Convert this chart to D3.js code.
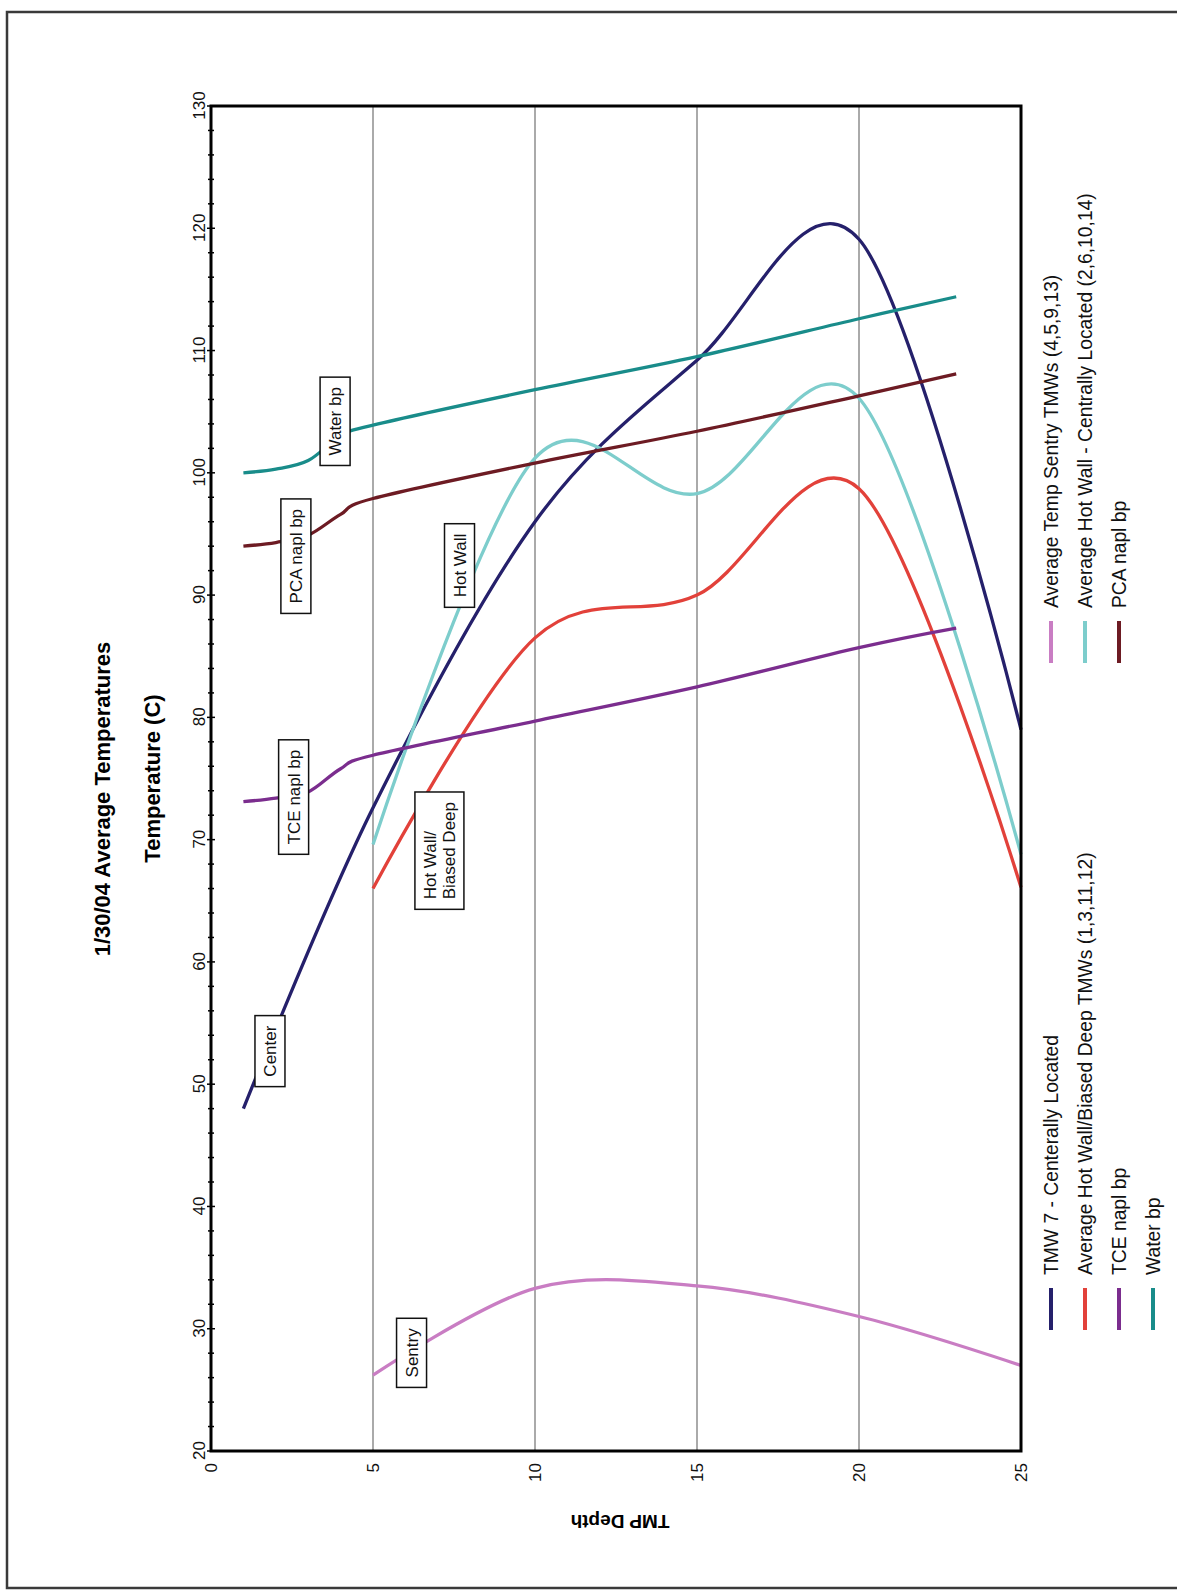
<!DOCTYPE html>
<html>
<head>
<meta charset="utf-8">
<script src="https://cdn.jsdelivr.net/npm/d3@7"></script>
<style>
  body { margin: 0; background: #fff; }
  svg { display: block; font-family: Arial, "Liberation Sans", sans-serif; }
</style>
</head>
<body>
<svg></svg>
<script>
let width = 1177;
let height = 1593;

// depths (TMP Depth) at which each series was read
const depthsCenter = [1, 5, 10, 15, 20, 25];
const depthsAvg = [5, 10, 15, 20, 25];
const depthsBp = [1, 2, 3, 4, 5, 10, 15, 20, 23];

// temperatures (C)
const tmw7Temps = [48, 72.6, 96, 109.2, 119.1, 79];
const sentryTemps = [26.2, 33.3, 33.5, 31, 27];
const hotWallDeepTemps = [66, 86.5, 90, 98.7, 66.1];
const hotWallCentralTemps = [69.6, 101.2, 98.3, 106.1, 68.8];
const tceBpTemps = [73.1, 73.4, 73.9, 75.8, 76.9, 79.7, 82.5, 85.7, 87.3];
const pcaBpTemps = [94.0, 94.3, 94.9, 96.6, 97.9, 100.8, 103.4, 106.3, 108.1];
const waterBpTemps = [100.0, 100.3, 101.0, 103.0, 103.9, 106.8, 109.5, 112.6, 114.4];

const seriesNames = [
  'TMW 7 - Centerally Located',
  'Average Temp Sentry TMWs (4,5,9,13)',
  'Average Hot Wall/Biased Deep TMWs (1,3,11,12)',
  'Average Hot Wall - Centrally Located (2,6,10,14)',
  'TCE napl bp',
  'PCA napl bp',
  'Water bp'
];

const tempTicks = d3.range(20, 131, 10);
const depthTicks = d3.range(0, 26, 5);

// call-out labels: text lines, temperature where the box starts, depth at its middle
const calloutTexts = [['Water bp'], ['PCA napl bp'], ['Hot Wall'], ['TCE napl bp'], ['Hot Wall/', 'Biased Deep'], ['Center'], ['Sentry']];
const calloutTemps = [100.6, 88.5, 89.0, 68.8, 64.3, 49.8, 25.2];
const calloutDepths = [3.83, 2.62, 7.67, 2.55, 7.05, 1.82, 6.19];

let color = d3.scaleOrdinal()
              .domain(seriesNames)
              .range(['#25206b', '#c97dc3', '#e2413a', '#7dcdcc', '#7b2d8e', '#6d1b23', '#198c8a']);

let series = [
  { name: seriesNames[0], depths: depthsCenter, temps: tmw7Temps },
  { name: seriesNames[1], depths: depthsAvg, temps: sentryTemps },
  { name: seriesNames[2], depths: depthsAvg, temps: hotWallDeepTemps },
  { name: seriesNames[3], depths: depthsAvg, temps: hotWallCentralTemps },
  { name: seriesNames[4], depths: depthsBp, temps: tceBpTemps },
  { name: seriesNames[5], depths: depthsBp, temps: pcaBpTemps },
  { name: seriesNames[6], depths: depthsBp, temps: waterBpTemps }
].map(s => ({ name: s.name, points: s.depths.map((d, i) => ({ d: d, t: s.temps[i] })) }));

let svg = d3.select('svg')
            .attr('width', width)
            .attr('height', height);

// page frame
svg.append('rect')
    .attr('x', 7).attr('y', 12)
    .attr('width', width + 20).attr('height', 1576)
    .attr('fill', 'none')
    .attr('stroke', '#3a3a3a')
    .attr('stroke-width', 2.5);

// the chart is laid out in landscape and turned a quarter turn
let chart = svg.append('g')
               .attr('transform', `translate(0, ${height}) rotate(-90)`);

let x = d3.scaleLinear().domain([20, 130]).range([142, 1487]);
let y = d3.scaleLinear().domain([0, 25]).range([211, 1021]);

chart.append('g')
    .selectAll('line')
    .data(d3.range(5, 21, 5))
    .join('line')
      .attr('x1', x(20)).attr('x2', x(130))
      .attr('y1', d => y(d)).attr('y2', d => y(d))
      .attr('stroke', '#8e8e8e')
      .attr('stroke-width', 1.5);

let line = d3.line()
             .x(p => x(p.t))
             .y(p => y(p.d))
             .curve(d3.curveCardinal.tension(0));

chart.append('g')
    .selectAll('path')
    .data(series)
    .join('path')
      .attr('d', s => line(s.points))
      .attr('fill', 'none')
      .attr('stroke', s => color(s.name))
      .attr('stroke-width', 3.3)
      .attr('stroke-linejoin', 'round');

chart.append('rect')
    .attr('x', x(20)).attr('y', y(0))
    .attr('width', x(130) - x(20)).attr('height', y(25) - y(0))
    .attr('fill', 'none')
    .attr('stroke', '#000')
    .attr('stroke-width', 3);

// temperature axis with minor ticks every 2
let tempAxis = chart.append('g')
    .attr('transform', `translate(0, ${y(0)})`)
    .call(d3.axisTop(x).tickValues(tempTicks).tickSize(0).tickPadding(6));
tempAxis.select('.domain').remove();
tempAxis.selectAll('text').style('font-size', '17px').attr('fill', '#111');

chart.append('g')
    .selectAll('line')
    .data(d3.range(20, 131, 2))
    .join('line')
      .attr('x1', d => x(d)).attr('x2', d => x(d))
      .attr('y1', d => y(0) - (d % 10 === 0 ? 4 : 3))
      .attr('y2', d => y(0) + (d % 10 === 0 ? 4 : 3))
      .attr('stroke', '#000')
      .attr('stroke-width', 1.5);

let depthAxis = chart.append('g')
    .attr('transform', `translate(${x(20)}, 0)`)
    .call(d3.axisLeft(y).tickValues(depthTicks).tickSize(0).tickPadding(12));
depthAxis.select('.domain').remove();
depthAxis.selectAll('text').style('font-size', '17px').attr('fill', '#111');

// titles
chart.append('text')
    .attr('x', 794).attr('y', 110)
    .attr('text-anchor', 'middle')
    .style('font-size', '22px')
    .style('font-weight', 'bold')
    .text('1/30/04 Average Temperatures');

chart.append('text')
    .attr('x', (x(20) + x(130)) / 2).attr('y', 160)
    .attr('text-anchor', 'middle')
    .style('font-size', '22px')
    .style('font-weight', 'bold')
    .text('Temperature (C)');

chart.append('text')
    .attr('transform', `translate(78, ${(y(0) + y(25)) / 2 + 4}) rotate(-90)`)
    .attr('text-anchor', 'middle')
    .style('font-size', '19px')
    .style('font-weight', 'bold')
    .text('TMP Depth');

// call-out boxes
calloutTexts.forEach((lines, i) => {
  let g = chart.append('g');
  let lineGap = 19;
  let x0 = x(calloutTemps[i]);
  let yc = y(calloutDepths[i]);
  let txt = g.append('text')
             .style('font-size', '17px')
             .attr('fill', '#111');
  lines.forEach((l, j) => {
    txt.append('tspan')
       .attr('x', x0 + 10)
       .attr('y', yc + 6 + (j - (lines.length - 1) / 2) * lineGap)
       .text(l);
  });
  let w = d3.max(txt.selectAll('tspan').nodes(), n => n.getComputedTextLength());
  let h = 30 + (lines.length - 1) * lineGap;
  g.insert('rect', 'text')
     .attr('x', x0).attr('y', yc - h / 2)
     .attr('width', w + 20).attr('height', h)
     .attr('fill', '#fff')
     .attr('stroke', '#111')
     .attr('stroke-width', 1.5);
});

// legend, two columns
let legend = chart.append('g')
    .selectAll('g')
    .data(seriesNames)
    .join('g')
      .attr('transform', (d, i) => `translate(${i % 2 === 0 ? 263 : 930}, ${1051 + Math.floor(i / 2) * 34})`);

legend.append('line')
    .attr('x1', 0).attr('x2', 42)
    .attr('stroke', d => color(d))
    .attr('stroke-width', 4);

legend.append('text')
    .attr('x', 55)
    .attr('dy', '0.35em')
    .style('font-size', '19.3px')
    .attr('fill', '#111')
    .text(d => d);
</script>
</body>
</html>
